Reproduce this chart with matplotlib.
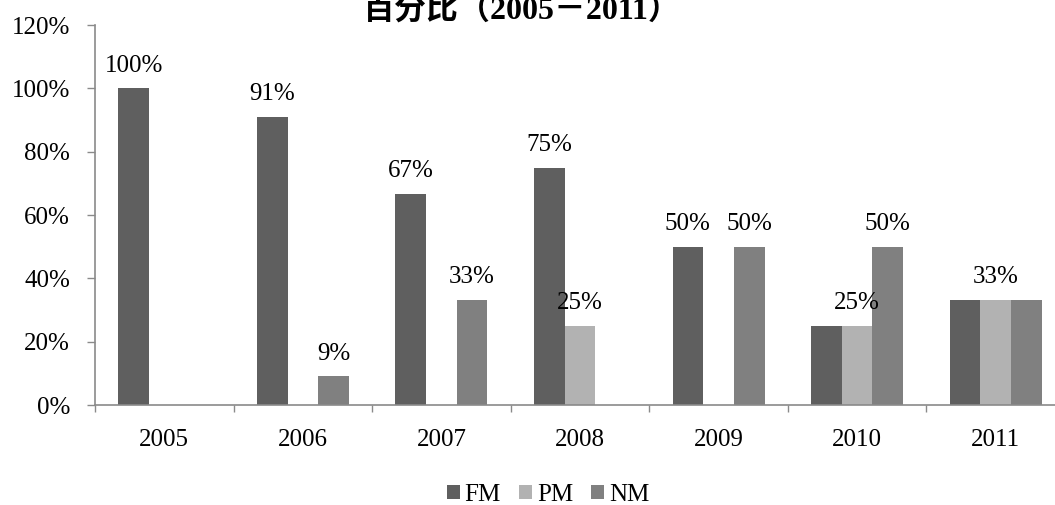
import matplotlib

matplotlib.use("Agg")
import matplotlib.pyplot as plt
import numpy as np
from matplotlib.patches import Patch

years = ["2005", "2006", "2007", "2008", "2009", "2010", "2011"]
series_names = ["FM", "PM", "NM"]
fm = [100.0, 90.9, 66.7, 75.0, 50.0, 25.0, 33.3]
pm = [0.0, 0.0, 0.0, 25.0, 0.0, 25.0, 33.3]
nm = [0.0, 9.1, 33.3, 0.0, 50.0, 50.0, 33.3]
# which bars carry a data label in the original
fm_show = [1, 1, 1, 1, 1, 0, 0]
pm_show = [0, 0, 0, 1, 0, 1, 1]
nm_show = [0, 1, 1, 0, 1, 1, 0]
title = "百分比（2005－2011）"

colors = ["#5f5f5f", "#b2b2b2", "#808080"]
axis_gray = "#8a8a8a"
FS = 18

plt.rcParams["font.family"] = ["Liberation Serif", "Noto Sans CJK SC"]

fig = plt.figure(figsize=(10.55, 5.05), dpi=100)
ax = fig.add_axes([95 / 1055, 1 - 405 / 505, 970 / 1055, 380 / 505])

x = np.arange(len(years))
w = 0.2215
for j, (vals, show) in enumerate(zip([fm, pm, nm], [fm_show, pm_show, nm_show])):
    xs = x + (j - 1) * w
    ax.bar(xs, vals, width=w, color=colors[j], edgecolor="none", zorder=2)
    for xi, v, s in zip(xs, vals, show):
        if s:
            ax.annotate(f"{v:.0f}%", (xi, v), xytext=(0, 12), textcoords="offset points",
                        ha="center", va="baseline", fontsize=FS)

ax.set_xlim(-0.5, len(years) - 0.5)
ax.set_ylim(0, 120)
ax.set_yticks(np.arange(0, 121, 20))
ax.set_yticklabels([f"{t}%" for t in range(0, 121, 20)], fontsize=FS)

ax.set_xticks(np.arange(-0.5, len(years), 1.0))
ax.set_xticklabels([])
ax.set_xticks(x, minor=True)
ax.set_xticklabels(years, minor=True, fontsize=FS)
ax.tick_params(axis="x", which="major", direction="out", length=5, color=axis_gray, width=1)
ax.tick_params(axis="x", which="minor", length=0, pad=17)
ax.tick_params(axis="y", direction="out", length=6, color=axis_gray, width=1, pad=12)

for side in ("top", "right"):
    ax.spines[side].set_visible(False)
for side in ("left", "bottom"):
    ax.spines[side].set_color(axis_gray)
    ax.spines[side].set_linewidth(1.2)

# title sits partly above the canvas, as in the source image
fig.text(521 / 1055, 1 - 19 / 505, title, ha="center", va="baseline",
         fontsize=23, fontweight="bold")

handles = [Patch(facecolor=c, edgecolor="none") for c in colors]
fig.legend(handles, series_names, loc="center", bbox_to_anchor=(548 / 1055, 1 - 495 / 505),
           ncol=3, frameon=False, fontsize=FS, handlelength=0.52, handleheight=0.52,
           handletextpad=0.2, columnspacing=0.72, borderaxespad=0, borderpad=0)

fig.savefig("out.png", dpi=100)
